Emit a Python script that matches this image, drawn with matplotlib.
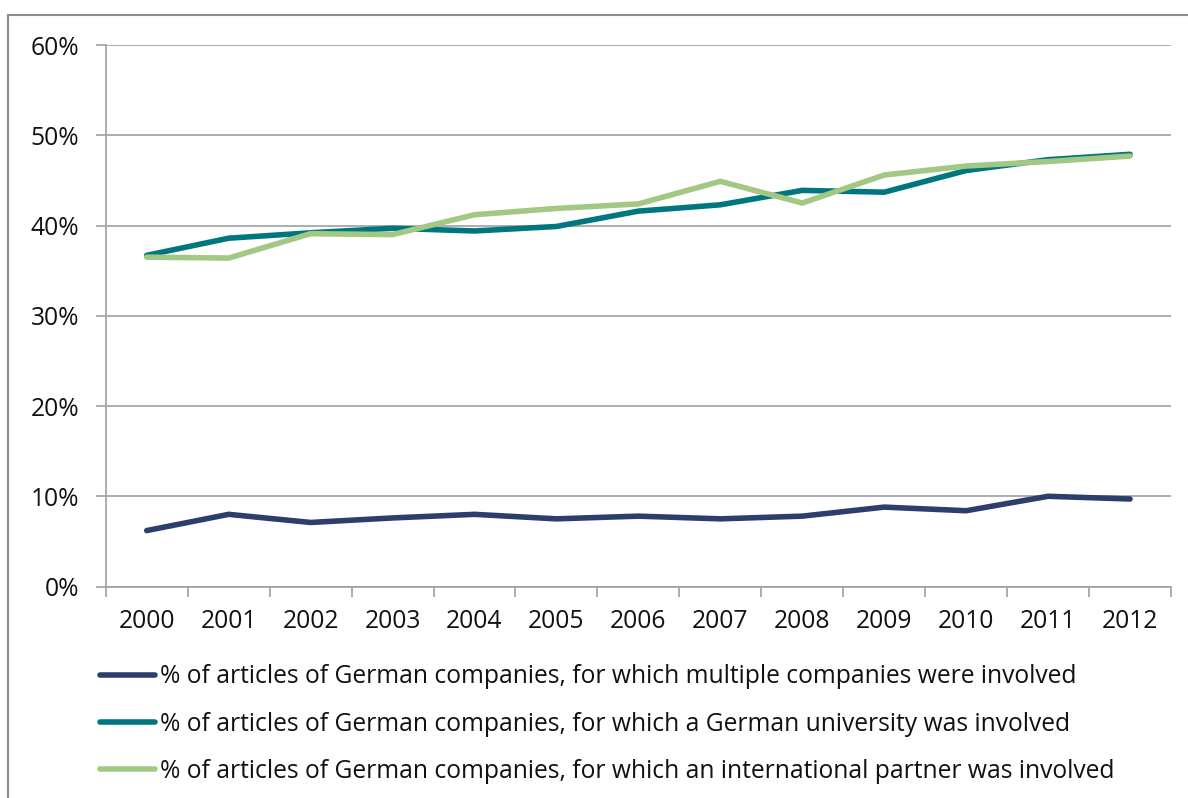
import matplotlib
matplotlib.use("Agg")
import matplotlib.pyplot as plt
from matplotlib.lines import Line2D
from matplotlib.ticker import FuncFormatter
import numpy as np

# --- data ---
years = ["2000", "2001", "2002", "2003", "2004", "2005", "2006",
         "2007", "2008", "2009", "2010", "2011", "2012"]
multi_companies = [6.2, 8.0, 7.1, 7.6, 8.0, 7.5, 7.8, 7.5, 7.8, 8.8, 8.4, 10.0, 9.7]
german_university = [36.7, 38.6, 39.2, 39.7, 39.4, 39.9, 41.6, 42.3, 43.9, 43.7, 46.1, 47.3, 47.9]
intl_partner = [36.5, 36.4, 39.1, 39.0, 41.2, 41.9, 42.4, 44.9, 42.5, 45.6, 46.6, 47.1, 47.7]

labels = [
    "% of articles of German companies, for which multiple companies were involved",
    "% of articles of German companies, for which a German university was involved",
    "% of articles of German companies, for which an international partner was involved",
]
colors = ["#2E3E6C", "#00777F", "#A2C884"]

plt.rcParams['font.family'] = ['Open Sans', 'DejaVu Sans']
FS = 17.7

fig = plt.figure(figsize=(11.88, 7.98), dpi=100)
ax = fig.add_axes([0.089, 0.265, 0.8967, 0.6785])

x = np.arange(len(years))
for vals, col, lab in zip([multi_companies, german_university, intl_partner], colors, labels):
    ax.plot(x, vals, color=col, lw=4.0, label=lab, solid_capstyle='round', solid_joinstyle='miter')

grid_col = "#A0A0A0"
ax.set_ylim(0, 60)
ax.set_yticks(np.arange(0, 61, 10))
ax.yaxis.set_major_formatter(FuncFormatter(lambda v, p: f"{v:.0f}%"))
ax.grid(axis='y', color=grid_col, lw=1.2)
ax.set_axisbelow(True)

# category axis: ticks between categories, labels at centers
ax.set_xlim(-0.5, len(years) - 0.5)
ax.set_xticks(np.arange(-0.5, len(years)), labels=[])
ax.set_xticks(x, labels=years, minor=True)
ax.tick_params(axis='x', which='major', length=7, width=1.2, color=grid_col)
ax.tick_params(axis='x', which='minor', length=0, pad=16, labelsize=FS, labelcolor='#111111')
ax.tick_params(axis='y', length=7, width=1.2, color=grid_col, pad=12, labelsize=FS, labelcolor='#111111')

for s in ['top', 'right']:
    ax.spines[s].set_visible(False)
for s in ['left', 'bottom']:
    ax.spines[s].set_color(grid_col)
    ax.spines[s].set_linewidth(1.2)

ax.legend(loc='upper left', bbox_to_anchor=(0.0842, 0.1673), bbox_transform=fig.transFigure,
          frameon=False, fontsize=FS, handlelength=2.24, handletextpad=0.2,
          labelspacing=0.9, borderaxespad=0, borderpad=0, labelcolor='#111111')

# outer frame (top and left edges visible)
fig.add_artist(Line2D([8 / 1188, 1], [1 - 14.5 / 798, 1 - 14.5 / 798], color='#8C8C8C', lw=1.5))
fig.add_artist(Line2D([8 / 1188, 8 / 1188], [0, 1 - 14.5 / 798], color='#8C8C8C', lw=1.5))

fig.savefig("out.png", dpi=100)
